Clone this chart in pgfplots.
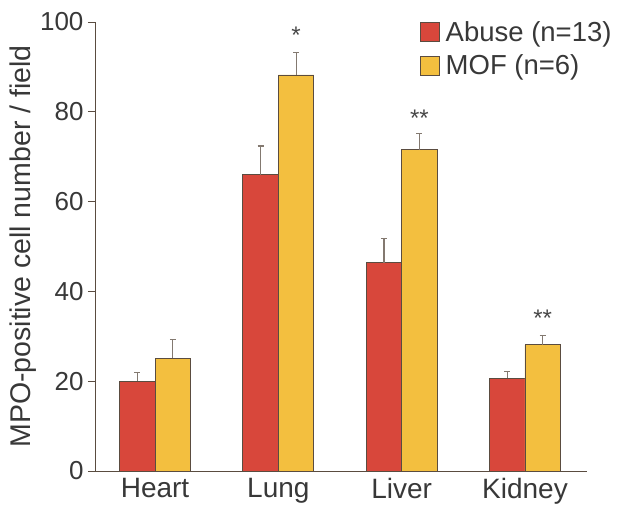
\documentclass[border=0pt]{standalone}
\usepackage{fontspec}
\setmainfont{Liberation Sans}
\usepackage{pgfplots}
\pgfplotsset{compat=1.18}
\definecolor{abred}{HTML}{D8473B}
\definecolor{mofyel}{HTML}{F3BF3F}
\definecolor{edge}{HTML}{5A4C40}
\begin{document}
\begin{tikzpicture}
\useasboundingbox (-95pt,-37pt) rectangle (527pt,471pt);
\begin{axis}[
  scale only axis,
  width=492pt, height=449pt,
  at={(0,0)}, anchor=south west,
  xmin=-0.487, xmax=3.503,
  ymin=0, ymax=100,
  axis x line*=bottom, axis y line*=left,
  axis line style={edge, line width=0.8pt},
  ytick={0,20,...,100},
  xtick={0,1,2,3},
  xticklabels={Heart,Lung,Liver,Kidney},
  xtick style={draw=none},
  ytick style={edge, line width=0.8pt},
  tick align=outside,
  major tick length=7pt,
  /pgf/number format/assume math mode=true,
  tick label style={text=black!78},
  yticklabel style={font=\fontsize{26}{30}\selectfont, xshift=-1pt},
  xticklabel style={font=\fontsize{28}{32}\selectfont, yshift=3pt},
  ylabel={MPO-positive cell number / field},
  ylabel style={font=\fontsize{28.5}{33}\selectfont, text=black!78, yshift=-3pt},
  ybar=0pt, bar width=35.5pt,
  error bars/y dir=plus,
  error bars/y explicit,
  error bars/error bar style={edge!75, line width=1.2pt},
  error bars/error mark options={rotate=90, mark size=3pt, line width=1.2pt, edge!75},
  legend cell align=left,
  legend style={at={(rel axis cs:0.66,1.006)}, anchor=north west, draw=none, fill=none,
    font=\fontsize{27.5}{32}\selectfont, text=black!78, row sep=8pt,
    inner sep=0pt, nodes={inner sep=2pt}},
  legend image code/.code={\draw[#1, line width=0.8pt] (0pt,-9.5pt) rectangle (19pt,9.5pt);
    \path (23pt,0pt);},
  clip=false,
]
\addplot[fill=abred, draw=edge, line width=0.8pt] coordinates {
  (0,20) +- (0,2.0)
  (1,66) +- (0,6.4)
  (2,46.4) +- (0,5.4)
  (3,20.7) +- (0,1.4)
};
\addlegendentry{Abuse (n=13)}
\addplot[fill=mofyel, draw=edge, line width=0.8pt] coordinates {
  (0,25.1) +- (0,4.1)
  (1,88.2) +- (0,5.0)
  (2,71.6) +- (0,3.6)
  (3,28.1) +- (0,2.0)
};
\addlegendentry{MOF (n=6)}
\node[font=\fontsize{24}{28}\selectfont, text=black!72] at (axis cs:1.144,97.0) {*};
\node[font=\fontsize{24}{28}\selectfont, text=black!72] at (axis cs:2.144,78.5) {**};
\node[font=\fontsize{24}{28}\selectfont, text=black!72] at (axis cs:3.144,34.0) {**};
\end{axis}
\end{tikzpicture}
\end{document}
